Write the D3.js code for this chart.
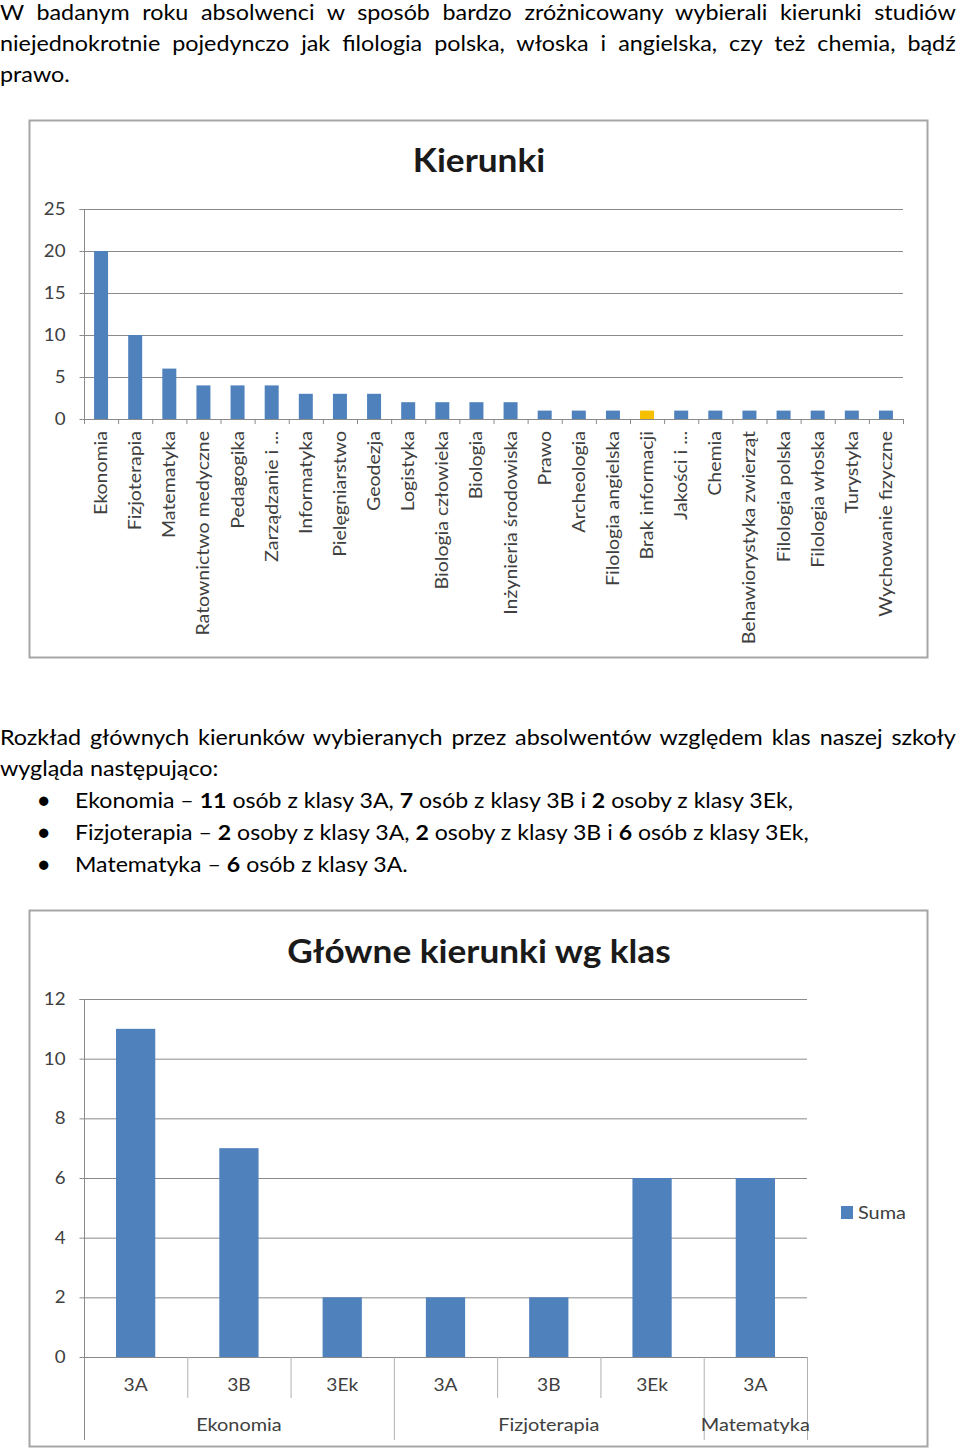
<!DOCTYPE html>
<html>
<head>
<meta charset="utf-8">
<script src="https://cdn.jsdelivr.net/npm/d3@7"></script>
<style>
  body { margin:0; background:#fff; width:960px; height:1450px; position:relative; overflow:hidden; font-family: Lato, "Noto Sans", sans-serif; }
  .line { position:absolute; left:0; width:861px; font-size:21px; line-height:31px; color:#000; white-space:nowrap; transform:scaleX(1.11); transform-origin:0 0; }
  .just { text-align:justify; text-align-last:justify; }
  .bullet { position:absolute; left:38px; font-size:19px; line-height:31px; }
  .btext { position:absolute; left:75px; font-size:21px; line-height:31px; white-space:nowrap; transform:scaleX(1.1); transform-origin:0 0; }
  svg { position:absolute; left:0; top:0; }
</style>
</head>
<body>
<div class="line just" style="top:-4px">W badanym roku absolwenci w sposób bardzo zróżnicowany wybierali kierunki studiów</div>
<div class="line just" style="top:27px">niejednokrotnie pojedynczo jak filologia polska, włoska i angielska, czy też chemia, bądź</div>
<div class="line" style="top:58px">prawo.</div>

<div class="line just" style="top:721px">Rozkład głównych kierunków wybieranych przez absolwentów względem klas naszej szkoły</div>
<div class="line" style="top:752px">wygląda następująco:</div>
<div class="bullet" style="top:784px">●</div>
<div class="btext" style="top:784px">Ekonomia – <b>11</b> osób z klasy 3A, <b>7</b> osób z klasy 3B i <b>2</b> osoby z klasy 3Ek,</div>
<div class="bullet" style="top:816px">●</div>
<div class="btext" style="top:816px">Fizjoterapia – <b>2</b> osoby z klasy 3A, <b>2</b> osoby z klasy 3B i <b>6</b> osób z klasy 3Ek,</div>
<div class="bullet" style="top:848px">●</div>
<div class="btext" style="top:848px">Matematyka – <b>6</b> osób z klasy 3A.</div>

<svg id="chart" width="960" height="1450"></svg>
<script>
// ---------- Data: chart 1 ----------
const categories1 = ["Ekonomia","Fizjoterapia","Matematyka","Ratownictwo medyczne","Pedagogika","Zarządzanie i ...","Informatyka","Pielęgniarstwo","Geodezja","Logistyka","Biologia człowieka","Biologia","Inżynieria środowiska","Prawo","Archeologia","Filologia angielska","Brak informacji","Jakości i ...","Chemia","Behawiorystyka zwierząt","Filologia polska","Filologia włoska","Turystyka","Wychowanie fizyczne"];
const values1 = [20,10,6,4,4,4,3,3,3,2,2,2,2,1,1,1,1,1,1,1,1,1,1,1];
const highlighted1 = ["Brak informacji"];
const yTicks1 = [0,5,10,15,20,25];
const title1 = "Kierunki";

// ---------- Data: chart 2 ----------
const classes2 = ["3A","3B","3Ek","3A","3B","3Ek","3A"];
const groupOf2 = ["Ekonomia","Ekonomia","Ekonomia","Fizjoterapia","Fizjoterapia","Fizjoterapia","Matematyka"];
const groups2 = ["Ekonomia","Fizjoterapia","Matematyka"];
const values2 = [11,7,2,2,2,6,6];
const yTicks2 = [0,2,4,6,8,10,12];
const title2 = "Główne kierunki wg klas";
const legend2 = ["Suma"];

const BLUE = "#4f81bd", GOLD = "#f6c000", GRID = "#8a8a8a", TXT = "#404040";
const SX = 1.13; // horizontal stretch of chart texts (reference glyphs are wide)
const svg = d3.select("#chart");

function styleTicks(axisG){
  axisG.selectAll(".tick text").each(function(){
    const t = d3.select(this);
    const x0 = +t.attr("x");
    t.attr("x", x0/1.1).attr("transform","scale(1.1,1)");
  }).attr("font-size",17).attr("fill",TXT).attr("font-family","Lato, sans-serif");
}

// ================= Chart 1 =================
{
  const g = svg.append("g");
  g.append("rect").attr("x",29.5).attr("y",120.5).attr("width",898).attr("height",537)
    .attr("fill","#fff").attr("stroke","#a6a6a6").attr("stroke-width",2);
  g.append("text").attr("transform","translate(479,172) scale(1.1,1)").attr("text-anchor","middle")
    .attr("font-size",32).attr("font-weight","bold").attr("fill","#1a1a1a").text(title1);

  const idx = categories1.map((d,i)=>i);
  const x = d3.scaleBand().domain(idx).range([84,903]).paddingInner(0.59).paddingOuter(0.295);
  const y = d3.scaleLinear().domain([0,25]).range([419,209]);

  g.append("g").selectAll("line").data(yTicks1.filter(d=>d>0)).join("line")
    .attr("x1",84).attr("x2",903).attr("y1",d=>y(d)+0.5).attr("y2",d=>y(d)+0.5)
    .attr("stroke",GRID).attr("stroke-width",1);

  const ya = g.append("g").attr("transform","translate(84.5,0)")
    .call(d3.axisLeft(y).tickValues(yTicks1).tickSize(5).tickPadding(14));
  ya.select(".domain").attr("stroke",GRID).attr("d",`M-5,${y(25)+0.5}H0V${y(0)}`);
  ya.selectAll(".tick line").attr("stroke",GRID);
  styleTicks(ya);

  g.append("g").selectAll("rect").data(values1).join("rect")
    .attr("x",(d,i)=>x(i)).attr("width",x.bandwidth())
    .attr("y",d=>y(d)).attr("height",d=>y(0)-y(d))
    .attr("fill",(d,i)=>highlighted1.includes(categories1[i])?GOLD:BLUE);

  const step = x.step();
  g.append("line").attr("x1",84).attr("x2",903).attr("y1",y(0)+0.5).attr("y2",y(0)+0.5).attr("stroke",GRID);
  g.append("g").selectAll("line").data(d3.range(categories1.length+1)).join("line")
    .attr("x1",d=>84+d*step+0.5).attr("x2",d=>84+d*step+0.5)
    .attr("y1",y(0)).attr("y2",y(0)+5).attr("stroke",GRID);

  g.append("g").selectAll("text").data(categories1).join("text")
    .attr("transform",(d,i)=>`translate(${x(i)+x.bandwidth()/2+6},431) rotate(-90) scale(1.15,1)`)
    .attr("text-anchor","end").attr("font-size",17).attr("fill",TXT).text(d=>d);
}

// ================= Chart 2 =================
{
  const g = svg.append("g");
  g.append("rect").attr("x",29.5).attr("y",910.5).attr("width",898).attr("height",536)
    .attr("fill","#fff").attr("stroke","#a6a6a6").attr("stroke-width",2);
  g.append("text").attr("transform","translate(479,963) scale(1.1,1)").attr("text-anchor","middle")
    .attr("font-size",32).attr("font-weight","bold").attr("fill","#1a1a1a").text(title2);

  const idx = classes2.map((d,i)=>i);
  const x = d3.scaleBand().domain(idx).range([84,807]).paddingInner(0.62).paddingOuter(0.31);
  const y = d3.scaleLinear().domain([0,12]).range([1357,999]);
  const step = x.step();

  g.append("g").selectAll("line").data(yTicks2.filter(d=>d>0)).join("line")
    .attr("x1",84).attr("x2",807).attr("y1",d=>y(d)+0.5).attr("y2",d=>y(d)+0.5)
    .attr("stroke",GRID);

  const ya = g.append("g").attr("transform","translate(84.5,0)")
    .call(d3.axisLeft(y).tickValues(yTicks2).tickSize(5).tickPadding(14));
  ya.select(".domain").attr("stroke",GRID).attr("d",`M-5,${y(12)+0.5}H0V1440`);
  ya.selectAll(".tick line").attr("stroke",GRID);
  styleTicks(ya);

  g.append("g").selectAll("rect").data(values2).join("rect")
    .attr("x",(d,i)=>x(i)).attr("width",x.bandwidth())
    .attr("y",d=>y(d)).attr("height",d=>y(0)-y(d))
    .attr("fill",BLUE);

  g.append("line").attr("x1",84).attr("x2",807).attr("y1",y(0)+0.5).attr("y2",y(0)+0.5).attr("stroke",GRID);

  const bounds = d3.range(1, classes2.length+1).map(i => ({i, long: i===classes2.length || groupOf2[i]!==groupOf2[i-1]}));
  g.append("g").selectAll("line").data(bounds).join("line")
    .attr("x1",d=>84+d.i*step+0.5).attr("x2",d=>84+d.i*step+0.5)
    .attr("y1",y(0)).attr("y2",d=>d.long?1440:1398).attr("stroke","#b0b0b0");

  g.append("g").selectAll("text").data(classes2).join("text")
    .attr("transform",(d,i)=>`translate(${x(i)+x.bandwidth()/2},1391) scale(${SX},1)`).attr("text-anchor","middle")
    .attr("font-size",17).attr("fill",TXT).text(d=>d);

  g.append("g").selectAll("text").data(groups2).join("text")
    .attr("transform",gr=>{
      const ids = idx.filter(i=>groupOf2[i]===gr);
      const cx = 84 + (ids[0] + ids[ids.length-1] + 1)/2*step;
      return `translate(${cx},1431) scale(1.17,1)`;
    })
    .attr("text-anchor","middle").attr("font-size",17).attr("fill",TXT).text(d=>d);

  const lg = g.append("g").attr("transform","translate(841,1206)");
  lg.selectAll("rect").data(legend2).join("rect").attr("x",0).attr("y",0).attr("width",12).attr("height",13).attr("fill",BLUE);
  lg.selectAll("text").data(legend2).join("text").attr("transform","translate(17,13) scale(1.17,1)").attr("font-size",17).attr("fill",TXT).text(d=>d);
}
</script>
</body>
</html>
